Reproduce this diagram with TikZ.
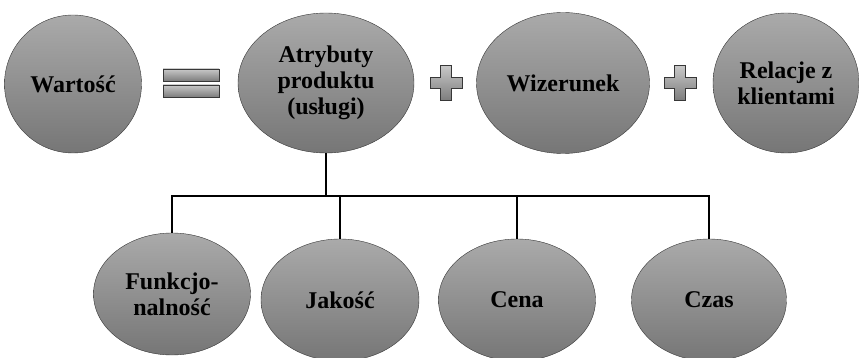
\documentclass[tikz,border=0pt]{standalone}
\usepackage{fontspec}
\setmainfont{Liberation Serif}
\usetikzlibrary{shapes.geometric}
\definecolor{ballTop}{RGB}{170,170,170}
\definecolor{ballBot}{RGB}{118,118,118}
\definecolor{ballEdge}{RGB}{55,55,55}
\definecolor{signTop}{RGB}{200,200,200}
\definecolor{signBot}{RGB}{125,125,125}
\begin{document}
\begin{tikzpicture}[x=1pt,y=-1pt,
 ball/.style={ellipse,draw=ballEdge,thin,top color=ballTop,bottom color=ballBot,
  inner sep=0pt,align=center,font=\bfseries\fontsize{24}{26}\selectfont},
 sign/.style={draw=ballEdge,thin,top color=signTop,bottom color=signBot},
 link/.style={line width=2.2pt}]
 \useasboundingbox (0,0) rectangle (859,358);
 % top row
 \node[ball,minimum width=137pt,minimum height=138pt] (wart) at (73,84) {Wartość};
 \node[ball,minimum width=176pt,minimum height=140pt] (attr) at (326,83) {Atrybuty\\produktu\\(usługi)};
 \node[ball,minimum width=173pt,minimum height=141pt] (wiz) at (563,83) {Wizerunek};
 \node[ball,minimum width=146pt,minimum height=140pt] (rel) at (786,83) {Relacje z\\klientami};
 \path[sign] (163,69) rectangle (219,81);
 \path[sign] (163,85) rectangle (219,97);
 \foreach \cx in {446,680}
  \path[sign,shift={(\cx,83)}] (-5.5,-17.5) -- (5.5,-17.5) -- (5.5,-5.5) -- (16,-5.5)
   -- (16,5.5) -- (5.5,5.5) -- (5.5,17.5) -- (-5.5,17.5) -- (-5.5,5.5) -- (-16,5.5)
   -- (-16,-5.5) -- (-5.5,-5.5) -- cycle;
 % bottom row
 \node[ball,minimum width=157pt,minimum height=122pt] (funk) at (172,294) {Funkcjo-\\nalność};
 \node[ball,minimum width=158pt,minimum height=122pt] (jak) at (340,300) {Jakość};
 \node[ball,minimum width=157pt,minimum height=122pt] (cena) at (517,300) {Cena};
 \node[ball,minimum width=155pt,minimum height=122pt] (czas) at (709,300) {Czas};
 \coordinate (hub) at (326,196);
 \draw[link] (attr.south) -- (hub);
 \foreach \n in {funk,jak,cena,czas}
  \draw[link] (hub) -| (\n.north);
\end{tikzpicture}
\end{document}
